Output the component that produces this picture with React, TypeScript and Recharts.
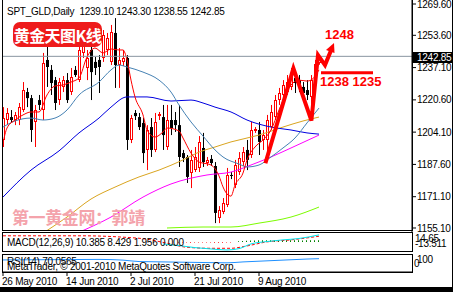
import React from 'react';
import { ComposedChart, Bar, Line, XAxis, YAxis, ReferenceLine, Cell } from 'recharts';

const FONT = '"Liberation Sans", Arial, sans-serif';
const CJK = '"Noto Sans CJK SC", sans-serif';

const title = 'SPT_GLD,Daily  1239.10 1243.30 1238.55 1242.85';
const lastPrice = 1242.85;
const priceTicks = [1155.1, 1171.1, 1187.6, 1204.1, 1220.6, 1237.1, 1253.6, 1269.6];
const dateTicks = [0, 16, 32, 48, 64];
const dateLabels = ['26 May 2010', '14 Jun 2010', '2 Jul 2010', '21 Jul 2010', '9 Aug 2010'];

const opens = [
  1200.1, 1210.3, 1211.8, 1210.3, 1210.3, 1215.4, 1224.6, 1221.5, 1209.3, 1220.5,
  1215.4, 1241.0, 1235.9, 1230.7, 1220.5, 1227.2, 1230.7, 1224.6, 1235.9, 1230.7,
  1244.6, 1236.9, 1246.1, 1240.0, 1241.0, 1242.0, 1246.1, 1240.0, 1254.8, 1238.4,
  1240.0, 1242.0, 1200.1, 1213.9, 1211.8, 1208.8, 1195.0, 1206.7, 1195.0, 1212.3,
  1211.8, 1196.5, 1210.3, 1210.3, 1207.7, 1193.4, 1191.4, 1183.2, 1184.7, 1185.8,
  1196.0, 1188.3, 1190.4, 1186.8, 1160.2, 1163.3, 1166.8, 1182.2, 1177.1, 1183.7,
  1188.8, 1195.0, 1192.4, 1204.7, 1205.2, 1200.1, 1200.1, 1206.7, 1211.8, 1220.5,
  1223.1, 1224.6, 1227.2, 1231.8, 1230.7, 1227.2, 1225.6, 1222.1, 1229.7, 1239.1,
];
const highs = [
  1216.9, 1216.4, 1215.4, 1214.4, 1219.0, 1229.7, 1226.7, 1223.1, 1218.0, 1223.1,
  1244.6, 1248.6, 1238.4, 1232.3, 1231.8, 1232.8, 1234.3, 1236.9, 1237.9, 1249.7,
  1254.8, 1246.1, 1251.2, 1242.5, 1243.5, 1256.3, 1254.8, 1258.9, 1262.4, 1247.1,
  1246.1, 1243.5, 1212.9, 1215.4, 1213.9, 1211.3, 1207.7, 1211.3, 1213.9, 1214.4,
  1218.0, 1218.0, 1218.0, 1214.4, 1218.0, 1195.0, 1192.4, 1195.0, 1196.5, 1202.1,
  1203.7, 1191.4, 1192.4, 1188.8, 1166.3, 1170.4, 1185.8, 1183.7, 1189.9, 1193.9,
  1196.5, 1200.1, 1209.3, 1206.7, 1209.3, 1205.2, 1212.9, 1218.0, 1223.1, 1226.7,
  1230.7, 1233.3, 1236.9, 1233.3, 1233.3, 1229.7, 1230.7, 1233.3, 1241.0, 1243.3,
];
const lows = [
  1196.5, 1207.7, 1208.8, 1207.7, 1207.7, 1214.4, 1216.9, 1199.1, 1196.5, 1215.4,
  1210.3, 1227.2, 1223.1, 1215.4, 1218.0, 1224.6, 1219.0, 1223.1, 1232.3, 1229.7,
  1242.0, 1230.7, 1220.5, 1233.3, 1224.1, 1240.0, 1243.5, 1238.4, 1226.7, 1226.7,
  1237.9, 1195.0, 1198.5, 1210.3, 1205.2, 1188.3, 1184.7, 1191.4, 1193.9, 1210.3,
  1195.0, 1195.0, 1202.6, 1204.2, 1186.3, 1188.8, 1178.1, 1175.5, 1183.7, 1183.7,
  1186.3, 1186.8, 1186.8, 1157.6, 1157.6, 1162.2, 1165.8, 1180.1, 1175.5, 1182.2,
  1186.8, 1184.7, 1190.9, 1203.7, 1192.4, 1195.0, 1190.9, 1205.2, 1210.3, 1218.0,
  1220.5, 1223.1, 1225.6, 1224.1, 1224.6, 1222.1, 1220.5, 1215.4, 1228.2, 1238.55,
];
const closes = [
  1211.3, 1213.9, 1210.3, 1212.9, 1216.9, 1225.6, 1221.5, 1205.2, 1215.4, 1218.0,
  1239.4, 1237.4, 1229.2, 1219.0, 1229.7, 1230.7, 1220.5, 1232.3, 1233.3, 1246.1,
  1252.7, 1242.0, 1234.8, 1236.9, 1237.4, 1253.8, 1252.2, 1255.3, 1238.4, 1241.0,
  1242.0, 1200.1, 1211.3, 1212.3, 1206.7, 1193.4, 1205.2, 1195.0, 1209.3, 1213.4,
  1202.6, 1210.3, 1206.2, 1207.7, 1191.4, 1190.9, 1181.2, 1189.9, 1191.4, 1199.1,
  1188.8, 1189.9, 1188.3, 1162.8, 1164.3, 1167.9, 1182.2, 1181.7, 1187.3, 1190.9,
  1193.9, 1189.9, 1205.2, 1205.7, 1199.1, 1202.6, 1210.3, 1214.4, 1220.5, 1224.1,
  1228.2, 1229.7, 1234.3, 1229.2, 1226.7, 1224.1, 1223.1, 1230.7, 1238.9, 1242.85,
];

// moving averages: [bar index, price]
const maRed: [number, number][] = [
  [0, 1198.5], [1, 1206.2], [3, 1210.3], [5, 1212.9], [7, 1214.4], [9, 1214.4], [11, 1223.1],
  [13, 1227.7], [15, 1228.2], [17, 1229.7], [19, 1231.8], [21, 1242.5], [23, 1247.1], [25, 1244.6],
  [27, 1246.6], [29, 1246.1], [30, 1246.1], [31, 1241.0], [32, 1230.7], [33, 1222.1], [35, 1212.9],
  [36, 1205.2], [38, 1201.6], [40, 1204.2], [41, 1206.2], [44, 1204.7], [45, 1201.1], [47, 1193.4],
  [49, 1188.8], [50, 1188.3], [52, 1187.3], [54, 1181.7], [55, 1176.1], [56, 1172.5], [57, 1171.4],
  [58, 1177.1], [60, 1183.2], [61, 1189.9], [63, 1196.5], [65, 1200.1], [67, 1205.2], [69, 1215.4],
  [72, 1228.2], [74, 1230.7], [76, 1230.2], [77, 1230.7], [79, 1235.9],
];
const maSteel: [number, number][] = [
  [0, 1206.7], [3, 1209.8], [7, 1211.3], [10, 1210.3], [13, 1211.3], [16, 1215.4], [19, 1223.1],
  [24, 1229.7], [27, 1235.9], [29, 1238.4], [31, 1237.4], [35, 1234.8], [39, 1230.7], [42, 1224.6],
  [44, 1218.0], [47, 1209.3], [50, 1202.1], [53, 1195.0], [55, 1191.4], [59, 1187.8], [61, 1186.3],
  [64, 1187.3], [67, 1191.4], [70, 1196.0], [73, 1201.1], [76, 1208.8], [79, 1216.4],
];
const maBlue: [number, number][] = [
  [0, 1170.9], [7, 1184.7], [14, 1194.5], [19, 1203.7], [24, 1211.3], [27, 1216.9], [31, 1222.1],
  [36, 1222.1], [42, 1220.0], [47, 1220.5], [50, 1219.0], [53, 1216.9], [57, 1214.4], [61, 1210.3],
  [67, 1206.7], [72, 1205.2], [76, 1203.7], [79, 1203.1],
];
const maOrange: [number, number][] = [
  [11, 1153.8], [16, 1160.7], [22, 1169.9], [28, 1176.0], [34, 1181.2], [39, 1184.7], [45, 1189.9],
  [49, 1193.9], [53, 1196.5], [57, 1199.1], [64, 1202.6], [70, 1206.7], [75, 1209.8], [79, 1211.8],
];
const maMagenta: [number, number][] = [
  [20, 1153.8], [27, 1160.7], [35, 1170.9], [42, 1177.6], [51, 1182.2], [57, 1183.7], [62, 1187.3],
  [67, 1191.4], [72, 1196.0], [79, 1202.6],
];
const maGreen: [number, number][] = [
  [41, 1155.1], [50, 1155.6], [57, 1155.6], [64, 1157.6], [72, 1160.7], [79, 1165.8],
];

// hand drawn forecast
const zigzag: [number, number][] = [
  [65.6, 1188.2], [72.6, 1236.7], [77.1, 1210.0], [78.75, 1243.5], [80.5, 1238.4], [82.25, 1247.1],
];
const supportLine: [number, number][] = [[79.5, 1234.4], [92.5, 1234.4]];

// MACD(12,26,9)
const macdMain: [number, number][] = [
  [40, -3], [44, -5.5], [48, -8.5], [52, -10.5], [56, -12], [59, -10], [62, -3], [66, 0.5],
  [70, 3], [74, 5], [79, 10.4],
];
const macdSignal: [number, number][] = [
  [0, 9], [10, 9], [20, 9], [30, 7], [36, 4], [41, -2], [46, -8], [52, -9.5], [57, -9.5],
  [61, -6], [66, 0], [72, 3], [79, 8.4],
];
const macdHist: [number, number][] = [
  [44, -0.8], [45, -0.9], [46, -1.0], [47, -1.1], [48, -1.0], [49, -0.9], [50, -0.8], [51, -0.9],
  [52, -1.0], [53, -1.1], [54, -1.2], [55, -1.1], [56, -1.0], [57, -0.9],
  [59, 1.0], [60, 1.4], [61, 1.8], [62, 2.0], [63, 2.2], [64, 2.3], [65, 2.4], [66, 2.5], [67, 2.4],
  [68, 2.3], [69, 2.4], [70, 2.5], [71, 2.6], [72, 2.5], [73, 2.4], [74, 2.3], [75, 2.2], [76, 2.3],
  [77, 2.4], [78, 2.5], [79, 2.6],
];

// RSI(14)
const rsi: [number, number][] = [
  [0, 67], [8, 68], [16, 69], [24, 70], [30, 66], [34, 58], [40, 56], [46, 54], [52, 52], [56, 51],
  [60, 56], [64, 60], [68, 64], [72, 68], [76, 72], [79, 74],
];

const X_DOMAIN: [number, number] = [-0.25, 102.25];

const candles = opens.map((open, i) => ({
  i, open, high: highs[i], low: lows[i], close: closes[i], range: [lows[i], highs[i]],
}));
const histRows = macdHist.map(([i, h]) => ({ i, h }));
const pts = (arr: [number, number][]) => arr.map(([i, v]) => ({ i, v }));

const Candle = (props: any) => {
  const { x, y, width, height, index } = props;
  const c = props.payload && props.payload.open != null ? props.payload : candles[index];
  if (!c || y == null) return <g />;
  const top = Math.min(y, y + height);
  const h = Math.abs(height);
  const k = c.high > c.low ? h / (c.high - c.low) : 0;
  const cx = Math.round(x + width / 2);
  const bull = c.close >= c.open;
  const color = bull ? '#ff0000' : '#000000';
  const bTop = top + (c.high - Math.max(c.open, c.close)) * k;
  const bH = Math.max(1, Math.abs(c.open - c.close) * k);
  return (
    <g>
      <line x1={cx + 0.5} x2={cx + 0.5} y1={top} y2={top + h} stroke={color} />
      {bull ? (
        <rect x={cx - 0.5} y={Math.round(bTop) + 0.5} width={2} height={Math.max(1, Math.round(bH) - 1)} fill="#fff" stroke={color} />
      ) : (
        <rect x={cx - 1} y={bTop} width={3} height={bH} fill="#000" />
      )}
    </g>
  );
};

const ArrowDot = (props: any) => {
  const { cx, cy, index } = props;
  if (index !== zigzag.length - 1 || cx == null) return <g key={`d${index}`} />;
  return (
    <polygon
      key={`d${index}`}
      points={`${cx + 2},${cy - 5} ${cx + 2.5},${cy + 5} ${cx - 6},${cy + 2}`}
      fill="#ff0000"
    />
  );
};

const DateTick = (props: any) => {
  const { x, y, payload } = props;
  const k = dateTicks.indexOf(payload.value);
  return (
    <text x={x - 1} y={y + 7} textAnchor="start" fontSize={10} fontFamily={FONT} fill="#000" letterSpacing={-0.25}>
      {dateLabels[k]}
    </text>
  );
};

const txt = (left: number, top: number, s: string, extra: React.CSSProperties = {}) => (
  <div
    style={{
      position: 'absolute', left, top, fontSize: 10, lineHeight: '11px', fontFamily: FONT,
      letterSpacing: -0.25, whiteSpace: 'pre', color: '#000', ...extra,
    }}
  >
    {s}
  </div>
);

const box = (left: number, top: number, width: number, height: number): React.CSSProperties => ({
  position: 'absolute', left, top, width, height, border: '1px solid #000', boxSizing: 'border-box', pointerEvents: 'none',
});

export default function App() {
  return (
    <div style={{ position: 'relative', width: 453, height: 292, background: '#fff', overflow: 'hidden', fontFamily: FONT }}>
      <style>{'body{margin:0}'}</style>

      <div style={{ position: 'absolute', left: 0, top: 0 }}>
        <ComposedChart width={453} height={240} data={candles} margin={{ top: 0, right: 0, bottom: 8, left: 2 }}>
          <XAxis dataKey="i" type="number" domain={X_DOMAIN} hide allowDataOverflow />
          <YAxis
            orientation="right"
            domain={[1153.05, 1271.65]}
            allowDataOverflow
            ticks={priceTicks}
            interval={0}
            width={41}
            axisLine={{ stroke: '#000' }}
            tickLine={{ stroke: '#000' }}
            tickSize={4}
            tickMargin={1}
            tick={{ fontSize: 10, fill: '#000', fontFamily: FONT, letterSpacing: -0.25 }}
            tickFormatter={(v: number) => v.toFixed(2)}
          />
          <Bar dataKey="range" barSize={3} shape={Candle} isAnimationActive={false} />
          <Line data={pts(maGreen)} dataKey="v" type="monotone" stroke="#7cfc00" strokeWidth={1} dot={false} isAnimationActive={false} />
          <Line data={pts(maMagenta)} dataKey="v" type="monotone" stroke="#ff00ff" strokeWidth={1} dot={false} isAnimationActive={false} />
          <Line data={pts(maOrange)} dataKey="v" type="monotone" stroke="#daa520" strokeWidth={1} dot={false} isAnimationActive={false} />
          <Line data={pts(maBlue)} dataKey="v" type="monotone" stroke="#0000e0" strokeWidth={1} dot={false} isAnimationActive={false} />
          <Line data={pts(maSteel)} dataKey="v" type="monotone" stroke="#4682b4" strokeWidth={1} dot={false} isAnimationActive={false} />
          <Line data={pts(maRed)} dataKey="v" type="monotone" stroke="#ff0000" strokeWidth={1} dot={false} isAnimationActive={false} />
          <ReferenceLine y={lastPrice} stroke="#8894a0" />
          <Line data={pts(zigzag)} dataKey="v" type="linear" stroke="#ff0000" strokeWidth={4} strokeLinejoin="miter" dot={ArrowDot} activeDot={false} isAnimationActive={false} />
          <Line data={pts(supportLine)} dataKey="v" type="linear" stroke="#ff0000" strokeWidth={3} dot={false} isAnimationActive={false} />
        </ComposedChart>
      </div>

      <div style={{ position: 'absolute', left: 0, top: 232, background: '#fff' }}>
        <ComposedChart width={453} height={19} data={histRows} margin={{ top: 0, right: 41, bottom: 0, left: 2 }}>
          <XAxis dataKey="i" type="number" domain={X_DOMAIN} hide allowDataOverflow />
          <YAxis hide domain={[-13.511, 14.65]} allowDataOverflow />
          <Bar dataKey="h" barSize={1} isAnimationActive={false}>
            {histRows.map((r) => (
              <Cell key={r.i} fill={r.h < 0 ? '#ff0000' : '#008000'} />
            ))}
          </Bar>
          <Line data={pts(macdSignal)} dataKey="v" type="monotone" stroke="#ff0000" strokeDasharray="3 2" dot={false} isAnimationActive={false} />
          <Line data={pts(macdMain)} dataKey="v" type="monotone" stroke="#00e5ee" dot={false} isAnimationActive={false} />
        </ComposedChart>
      </div>

      <div style={{ position: 'absolute', left: 0, top: 254 }}>
        <ComposedChart width={453} height={33} data={candles} margin={{ top: 0, right: 41, bottom: 0, left: 2 }}>
          <XAxis
            dataKey="i"
            type="number"
            domain={X_DOMAIN}
            allowDataOverflow
            ticks={dateTicks}
            interval={0}
            height={15}
            axisLine={{ stroke: '#000' }}
            tickLine={{ stroke: '#000' }}
            tickSize={4}
            tick={(p: any) => <DateTick {...p} />}
          />
          <YAxis hide domain={[0, 100]} />
          <Line data={pts(rsi)} dataKey="v" type="monotone" stroke="#1e90ff" dot={false} isAnimationActive={false} />
        </ComposedChart>
      </div>

      {/* panel frames */}
      <div style={box(2, -1, 411, 232)} />
      <div style={box(2, 232, 411, 20)} />
      <div style={box(2, 254, 411, 19)} />

      {/* texts */}
      {txt(7, 6, title)}
      {txt(7, 237, 'MACD(12,26,9) 10.385 8.429 1.956 0.000')}
      {txt(7, 256, 'RSI(14) 70.0565')}
      {txt(7, 261, 'MetaTrader, \u00a9 2001-2010 MetaQuotes Software Corp.')}
      {txt(415, 233, '14.65')}
      {txt(415, 238, '-13.511')}
      {txt(417, 254, '100')}
      {txt(414, 258, '0')}

      <div
        style={{
          position: 'absolute', left: 413, top: 52, width: 39, height: 11, background: '#000', color: '#fff',
          fontSize: 10, lineHeight: '11px', paddingLeft: 4, boxSizing: 'border-box', letterSpacing: -0.25,
        }}
      >
        {lastPrice.toFixed(2)}
      </div>

      <div
        style={{
          position: 'absolute', left: 13, top: 22, width: 89, height: 25, background: '#ee1b1b', borderRadius: 7,
          color: '#fff', fontFamily: CJK, fontWeight: 700, fontSize: 16, letterSpacing: -0.6,
          display: 'flex', alignItems: 'center', justifyContent: 'center', whiteSpace: 'nowrap',
        }}
      >
        黄金天图K线
      </div>

      <div
        style={{
          position: 'absolute', left: 12, top: 208, fontFamily: CJK, fontWeight: 700, fontSize: 17,
          lineHeight: '17px', letterSpacing: -0.4, color: '#f4a3ab', whiteSpace: 'nowrap',
        }}
      >
        第一黄金网：郭靖
      </div>

      <div style={{ position: 'absolute', left: 325, top: 28, fontSize: 13, lineHeight: '13px', fontWeight: 700, color: '#ff0000' }}>
        1248
      </div>
      <div style={{ position: 'absolute', left: 320, top: 75, fontSize: 13, lineHeight: '13px', fontWeight: 700, color: '#ff0000', whiteSpace: 'pre' }}>
        1238 1235
      </div>

      <div style={{ position: 'absolute', left: 0, top: 287, width: 453, height: 5, background: '#000' }} />
      <div style={{ position: 'absolute', left: 452, top: 0, width: 1, height: 292, background: '#000' }} />
    </div>
  );
}
